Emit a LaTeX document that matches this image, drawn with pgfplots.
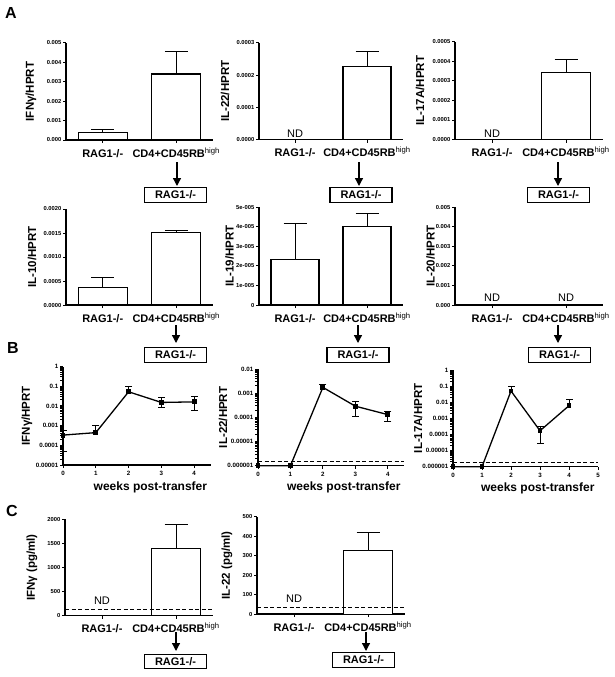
\documentclass[border=0pt]{standalone}
\usepackage{fontspec}
\setmainfont{Liberation Sans}
\usepackage{pgfplots}
\pgfplotsset{compat=1.18}
\usetikzlibrary{arrows.meta}

\newcommand{\tkf}{\fontsize{5.8}{7}\selectfont\bfseries}
\newcommand{\tkb}{\fontsize{6.2}{7}\selectfont\bfseries}
\newcommand{\catf}{\fontsize{11}{12}\selectfont\bfseries}
\newcommand{\labf}{\fontsize{11.5}{13}\selectfont\bfseries}
\newcommand{\ndf}{\fontsize{11}{12}\selectfont}

\pgfplotsset{
  common/.style={scale only axis, anchor=south west, clip=false,
    axis x line*=bottom, axis y line*=left,
    axis line style={line width=1.3pt,-},
    tick align=outside, major tick length=3pt,
    every tick/.style={black, line width=1pt},
    y tick label style={font=\tkf, inner sep=1.5pt},
    scaled y ticks=false,
    ylabel style={font=\labf, anchor=center},
  },
  catax/.style={common, xmin=-0.5, xmax=1.5, ymin=0, xtick={0,1},
    xticklabels={RAG1-/-, CD4+CD45RB\textsuperscript{\mdseries high}},
    x tick label style={font=\catf, anchor=base, yshift=-14pt},
  },
  barp/.style={ybar, bar width=0.667, fill=white, draw=black, line width=1.3pt,
    error bars/y dir=plus, error bars/y explicit,
    error bars/error bar style={line width=1pt},
    error bars/error mark options={rotate=90, mark size=11.5pt, line width=1pt}},
  weekax/.style={common, xmin=0,
    x tick label style={font=\tkb},
    y tick label style={font=\tkb},
    xlabel={weeks post-transfer},
    xlabel style={font=\fontsize{12}{14}\selectfont\bfseries, at={(rel axis cs:1,0)}, anchor=base east, yshift=-25pt},
  },
  lineplot/.style={black, line width=1.3pt, mark=square*, mark size=1.8pt},
  whisk/.style={black, line width=0.9pt, mark=-, mark size=3.5pt, mark options={solid, line width=0.9pt}},
  whiskup/.style={whisk, mark indices={2}},
}

\begin{document}
\begin{tikzpicture}
\useasboundingbox (0,0) rectangle (615pt,-677pt);

% ---------------- A row 1 ----------------
\begin{axis}[catax, at={(66pt,-140pt)}, width=147pt, height=97pt, ymax=0.005,
  ytick={0,0.001,0.002,0.003,0.004,0.005}, yticklabels={0.000,0.001,0.002,0.003,0.004,0.005},
  ylabel={IFNγ/HPRT}, ylabel style={at={(axis description cs:-0.238,0.5)}}]
\addplot[barp] coordinates {(0,0.00040) +- (0,0.00012) (1,0.00340) +- (0,0.00115)};
\end{axis}

\begin{axis}[catax, at={(259pt,-139.5pt)}, width=144pt, height=96.5pt, ymax=0.0003,
  ytick={0,0.0001,0.0002,0.0003}, yticklabels={0.0000,0.0001,0.0002,0.0003},
  ylabel={IL-22/HPRT}, ylabel style={at={(axis description cs:-0.236,0.5)}}]
\addplot[barp] coordinates {(1,0.000228) +- (0,0.000045)};
\node[font=\ndf, anchor=base, yshift=2.5pt] at (axis cs:0,0) {ND};
\end{axis}

\begin{axis}[catax, at={(455pt,-139.5pt)}, width=148pt, height=97.5pt, ymax=0.0005,
  ytick={0,0.0001,0.0002,0.0003,0.0004,0.0005}, yticklabels={0.0000,0.0001,0.0002,0.0003,0.0004,0.0005},
  ylabel={IL-17A/HPRT}, ylabel style={at={(axis description cs:-0.236,0.5)}}]
\addplot[barp] coordinates {(1,0.000345) +- (0,0.000063)};
\node[font=\ndf, anchor=base, yshift=2.5pt] at (axis cs:0,0) {ND};
\end{axis}

% ---------------- A row 2 ----------------
\begin{axis}[catax, at={(66pt,-305pt)}, width=147pt, height=96pt, ymax=0.002,
  ytick={0,0.0005,0.001,0.0015,0.002}, yticklabels={0.0000,0.0005,0.0010,0.0015,0.0020},
  ylabel={IL-10/HPRT}, ylabel style={at={(axis description cs:-0.231,0.5)}}]
\addplot[barp] coordinates {(0,0.00037) +- (0,0.00021) (1,0.00151) +- (0,0.00004)};
\end{axis}

\begin{axis}[catax, at={(259pt,-305pt)}, width=144pt, height=97.7pt, ymax=0.00005,
  ytick={0,0.00001,0.00002,0.00003,0.00004,0.00005}, yticklabels={0,1e-005,2e-005,3e-005,4e-005,5e-005},
  ylabel={IL-19/HPRT}, ylabel style={at={(axis description cs:-0.205,0.5)}}]
\addplot[barp] coordinates {(0,0.0000234) +- (0,0.0000182) (1,0.0000400) +- (0,0.0000066)};
\end{axis}

\begin{axis}[catax, at={(455pt,-305pt)}, width=148pt, height=97.7pt, ymax=0.005,
  ytick={0,0.001,0.002,0.003,0.004,0.005}, yticklabels={0.000,0.001,0.002,0.003,0.004,0.005},
  ylabel={IL-20/HPRT}, ylabel style={at={(axis description cs:-0.165,0.5)}}]
\node[font=\ndf, anchor=base, yshift=4pt] at (axis cs:0,0) {ND};
\node[font=\ndf, anchor=base, yshift=4pt] at (axis cs:1,0) {ND};
\end{axis}

% ---------------- B row ----------------
\begin{axis}[weekax, ymode=log, at={(63pt,-465pt)}, width=147.6pt, height=98.5pt, xmax=4.5,
  ymin=1e-5, ymax=1,
  xtick={0,1,2,3,4}, xticklabels={0,1,2,3,4},
  ytick={1e-5,1e-4,1e-3,1e-2,1e-1,1}, yticklabels={0.00001,0.0001,0.001,0.01,0.1,1},
  ylabel={IFNγ/HPRT}, ylabel style={at={(axis description cs:-0.245,0.5)}}]
\addplot[whisk] coordinates {(0,5e-5) (0,6e-4)};
\addplot[whiskup] coordinates {(1,4.4e-4) (1,9.8e-4)};
\addplot[whiskup] coordinates {(2,0.052) (2,0.10)};
\addplot[whisk] coordinates {(3,0.0084) (3,0.027)};
\addplot[whisk] coordinates {(4,0.0057) (4,0.030)};
\addplot[lineplot] coordinates {(0,3.3e-4) (1,4.4e-4) (2,0.052) (3,0.015) (4,0.016)};
\end{axis}

\begin{axis}[weekax, ymode=log, at={(258pt,-465.7pt)}, width=146pt, height=96.7pt, xmax=4.5,
  ymin=1e-6, ymax=1e-2,
  xtick={0,1,2,3,4}, xticklabels={0,1,2,3,4},
  ytick={1e-6,1e-5,1e-4,1e-3,1e-2}, yticklabels={0.000001,0.00001,0.0001,0.001,0.01},
  ylabel={IL-22/HPRT}, ylabel style={at={(axis description cs:-0.24,0.5)}}]
\addplot[black, line width=1pt, dash pattern=on 4pt off 2.5pt] coordinates {(0,1.5e-6) (4.5,1.5e-6)};
\addplot[whiskup] coordinates {(2,1.74e-3) (2,2.4e-3)};
\addplot[whisk] coordinates {(3,1.1e-4) (3,4.4e-4)};
\addplot[whisk] coordinates {(4,7e-5) (4,1.8e-4)};
\addplot[lineplot] coordinates {(0,1e-6) (1,1e-6) (2,1.74e-3) (3,2.9e-4) (4,1.3e-4)};
\end{axis}

\begin{axis}[weekax, ymode=log, at={(453pt,-466.7pt)}, width=145pt, height=96.7pt, xmax=5,
  ymin=1e-6, ymax=1,
  xtick={0,1,2,3,4,5}, xticklabels={0,1,2,3,4,5},
  ytick={1e-6,1e-5,1e-4,1e-3,1e-2,1e-1,1}, yticklabels={0.000001,0.00001,0.0001,0.001,0.01,0.1,1},
  ylabel={IL-17A/HPRT}, ylabel style={at={(axis description cs:-0.241,0.5)}}]
\addplot[black, line width=1pt, dash pattern=on 4pt off 2.5pt] coordinates {(0,1.7e-6) (5,1.7e-6)};
\addplot[whiskup] coordinates {(2,0.05) (2,0.10)};
\addplot[whisk] coordinates {(3,2.8e-5) (3,3e-4)};
\addplot[whiskup] coordinates {(4,6.1e-3) (4,0.014)};
\addplot[lineplot] coordinates {(0,1e-6) (1,1e-6) (2,0.05) (3,1.7e-4) (4,6.1e-3)};
\end{axis}

% ---------------- C row ----------------
\begin{axis}[catax, at={(65pt,-615.7pt)}, width=148pt, height=96.5pt, ymax=2000,
  ytick={0,500,1000,1500,2000}, yticklabels={0,500,1000,1500,2000},
  ylabel={IFNγ (pg/ml)}, ylabel style={at={(axis description cs:-0.223,0.5)}}]
\addplot[barp, line width=0.8pt] coordinates {(1,1400) +- (0,500)};
\addplot[black, line width=1pt, dash pattern=on 4pt off 2.5pt] coordinates {(-0.5,130) (1.5,130)};
\node[font=\ndf, anchor=base] at (axis cs:0,222) {ND};
\end{axis}

\begin{axis}[catax, at={(257pt,-614pt)}, width=148pt, height=97.3pt, ymax=500,
  ytick={0,100,200,300,400,500}, yticklabels={0,100,200,300,400,500},
  ylabel={IL-22 (pg/ml)}, ylabel style={at={(axis description cs:-0.203,0.5)}}]
\addplot[barp, line width=0.8pt] coordinates {(1,327) +- (0,92)};
\addplot[black, line width=1pt, dash pattern=on 4pt off 2.5pt] coordinates {(-0.5,36) (1.5,36)};
\node[font=\ndf, anchor=base] at (axis cs:0,58) {ND};
\end{axis}

% ---------------- annotations ----------------
\begin{scope}[x=1pt,y=-1pt]
\node[font=\fontsize{16}{18}\selectfont\bfseries] at (11,13) {A};
\node[font=\fontsize{16}{18}\selectfont\bfseries] at (13,348) {B};
\node[font=\fontsize{16}{18}\selectfont\bfseries] at (12,511) {C};
\tikzset{arr/.style={line width=1.3pt,-{Triangle[width=8pt,length=8pt]}},
  bx/.style={draw, line width=1.2pt, minimum width=62pt, minimum height=14.5pt, inner sep=0pt, font=\catf}}
% row 1
\draw[arr] (177,162)--(177,186);  \node[bx] at (175.5,195) {RAG1-/-};
\draw[arr] (359,162)--(359,186);  \node[bx] at (361,195) {RAG1-/-};
\draw[arr] (558,162)--(558,186);  \node[bx] at (558.5,195) {RAG1-/-};
% row 2
\draw[arr] (176,325)--(176,343);  \node[bx] at (175.5,355) {RAG1-/-};
\draw[arr] (358,325)--(358,343);  \node[bx] at (358,355) {RAG1-/-};
\draw[arr] (558,325)--(558,343);  \node[bx] at (559.5,355) {RAG1-/-};
% C
\draw[arr] (176,632)--(176,651);  \node[bx] at (175.5,661.5) {RAG1-/-};
\draw[arr] (366,632)--(366,651);  \node[bx] at (363.5,660) {RAG1-/-};
\end{scope}
\end{tikzpicture}
\end{document}
